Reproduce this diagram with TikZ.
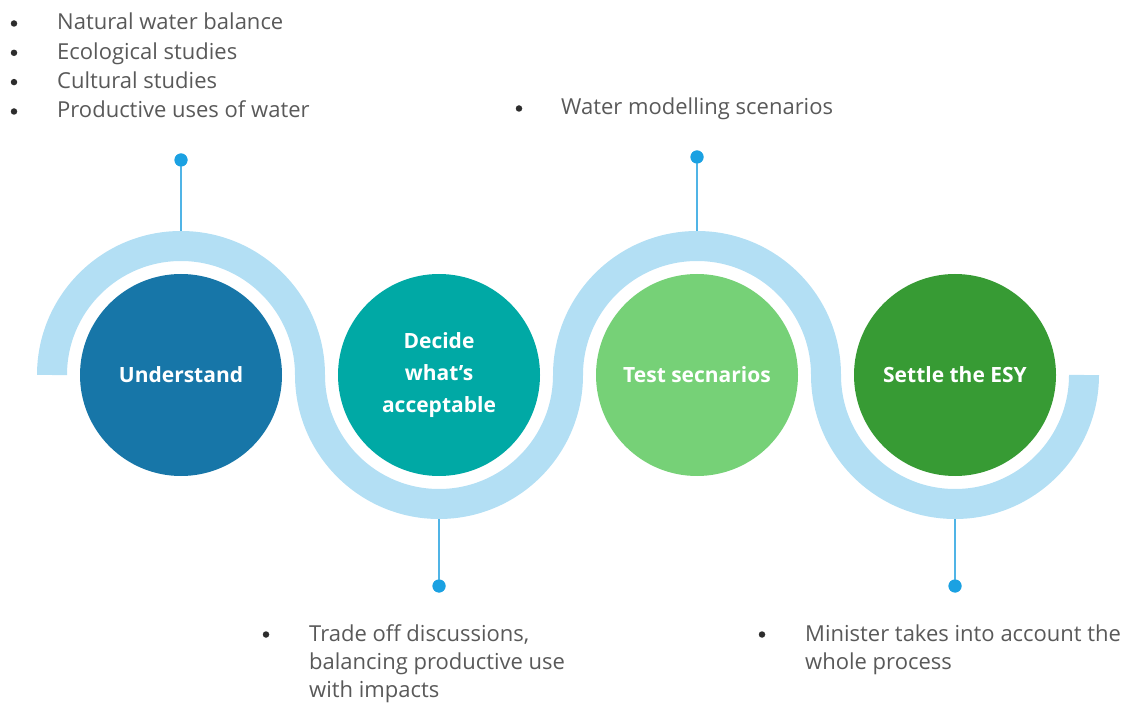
\documentclass[tikz,border=0pt]{standalone}
\usepackage{fontspec}
\setmainfont{Open Sans}
\definecolor{band}{RGB}{179,223,244}
\definecolor{c1}{RGB}{23,118,168}
\definecolor{c2}{RGB}{0,169,165}
\definecolor{c3}{RGB}{118,209,119}
\definecolor{c4}{RGB}{55,155,52}
\definecolor{dotc}{RGB}{27,161,226}
\definecolor{linec}{RGB}{80,180,230}
\definecolor{txt}{RGB}{89,89,89}
\definecolor{bul}{RGB}{45,45,45}
\begin{document}
\begin{tikzpicture}[x=1pt,y=1pt,
 stage/.style={circle, minimum size=202pt, inner sep=0pt, text=white, font=\fontsize{21}{32}\selectfont\bfseries, align=center},
 pin/.style={circle, fill=dotc, minimum size=13pt, inner sep=0pt},
 stem/.style={draw=linec, line width=2.5pt},
 item/.style={anchor=base west, inner sep=0pt, text=txt, font=\fontsize{22}{29}\selectfont},
 bul/.style={circle, fill=bul, minimum size=6.5pt, inner sep=0pt}
]
\useasboundingbox (0,0) rectangle (1132,702);
% wave band
\draw[band, line width=30pt] (52,327)
  arc[start angle=180,end angle=0,radius=129]
  arc[start angle=180,end angle=360,radius=129]
  arc[start angle=180,end angle=0,radius=129]
  arc[start angle=180,end angle=360,radius=129];
% stages
\node[stage, fill=c1] (s1) at (181,327) {Understand};
\node[stage, fill=c2] (s2) at (439,327) {Decide\\what’s\\acceptable};
\node[stage, fill=c3] (s3) at (697,327) {Test secnarios};
\node[stage, fill=c4] (s4) at (955,327) {Settle the ESY};
% connectors
\coordinate (t1) at (181,471);
\coordinate (t2) at (439,183);
\coordinate (t3) at (697,471);
\coordinate (t4) at (955,183);
\node[pin] (p1) at (181,542) {};
\node[pin] (p2) at (439,116) {};
\node[pin] (p3) at (697,545) {};
\node[pin] (p4) at (955,116) {};
\draw[stem] (t1) -- (p1.center);
\draw[stem] (t2) -- (p2.center);
\draw[stem] (t3) -- (p3.center);
\draw[stem] (t4) -- (p4.center);
\node[pin] at (p1) {};
\node[pin] at (p2) {};
\node[pin] at (p3) {};
\node[pin] at (p4) {};
% list 1
\node[bul] (b11) at (14,678.5) {};
\node[bul] (b12) at (14,649.2) {};
\node[bul] (b13) at (14,619.9) {};
\node[bul] (b14) at (14,590.5) {};
\node[item] (i11) at (57,672) {Natural water balance};
\node[item] (i12) at (57,642.7) {Ecological studies};
\node[item] (i13) at (57,613.4) {Cultural studies};
\node[item] (i14) at (57,584) {Productive uses of water};
% list 2
\node[bul] (b21) at (266,67.5) {};
\node[item] (i21) at (309,61) {Trade off discussions,};
\node[item] (i22) at (309,33) {balancing productive use};
\node[item] (i23) at (309,4.5) {with impacts};
% list 3
\node[bul] (b31) at (519,593.5) {};
\node[item] (i31) at (561,587) {Water modelling scenarios};
% list 4
\node[bul] (b41) at (762,67.5) {};
\node[item] (i41) at (805,61) {Minister takes into account the};
\node[item] (i42) at (805,33) {whole process};
\end{tikzpicture}
\end{document}
